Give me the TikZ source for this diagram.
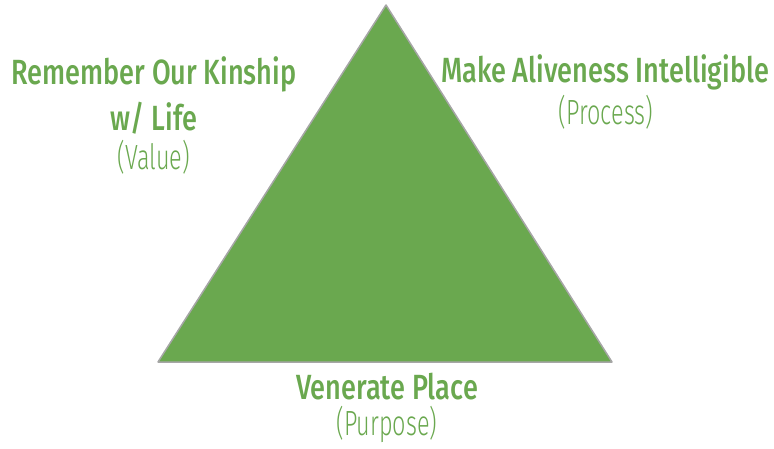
\documentclass[tikz,border=0pt]{standalone}
\usepackage{fontspec}
\setmainfont{Fira Sans Medium}[FakeStretch=0.775]
\newfontfamily\lightfont{Fira Sans Light}[FakeStretch=0.67]
\definecolor{leafgreen}{HTML}{6AA84F}
\tikzset{
  title/.style={text=leafgreen, anchor=base, inner sep=0pt, font=\fontsize{35}{40}\selectfont},
  subtitle/.style={text=leafgreen, anchor=base, inner sep=0pt, font=\lightfont\fontsize{35}{40}\selectfont},
}
\begin{document}
\begin{tikzpicture}[x=1pt, y=-1pt, line cap=round, line join=round]
    \useasboundingbox (0,0) rectangle (774,449);
    % 三角形
    \coordinate (top) at (386,5);
    \coordinate (left) at (158,362);
    \coordinate (right) at (612,362);
    \draw[fill=leafgreen, draw=gray!70, line width=1.5pt] (top) -- (left) -- (right) -- cycle;

    % 左上のラベル
    \node[title] (kinship) at (154,85) {Remember Our Kinship};
    \node[title] (life) at (154,131) {w/ Life};
    \node[subtitle] (value) at (154,170) {(Value)};

    % 右上のラベル
    \node[title] (aliveness) at (605,83) {Make Aliveness Intelligible};
    \node[subtitle] (process) at (606,125) {(Process)};

    % 下のラベル
    \node[title] (place) at (387,399) {Venerate Place};
    \node[subtitle] (purpose) at (387,435) {(Purpose)};
\end{tikzpicture}
\end{document}
